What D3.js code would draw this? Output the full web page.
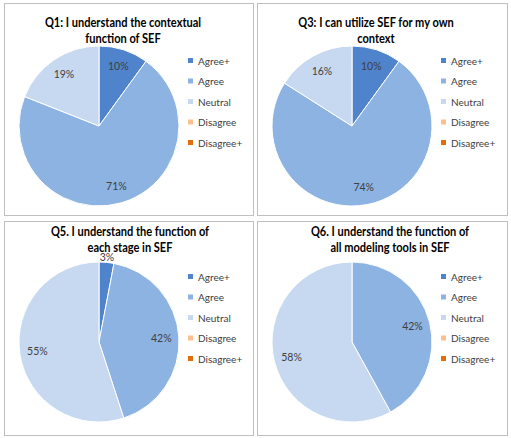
<!DOCTYPE html>
<html>
<head>
<meta charset="utf-8">
<script src="https://cdn.jsdelivr.net/npm/d3@7"></script>
<style>
  html, body { margin: 0; padding: 0; background: #fff; }
  svg { display: block; font-family: Lato, "Open Sans", sans-serif; }
</style>
</head>
<body>
<svg id="chart" width="511" height="438"></svg>
<script>
// categories shared by all four pies
const categories = ['Agree+', 'Agree', 'Neutral', 'Disagree', 'Disagree+'];
const colors = ['#4f83cc', '#8db3e2', '#c6d9f1', '#fac090', '#e46c0a'];

// percentages per question, in category order
const q1 = [10, 71, 19, 0, 0];
const q3 = [10, 74, 16, 0, 0];
const q5 = [3, 42, 55, 0, 0];
const q6 = [0, 42, 58, 0, 0];

const titles = [
  ['Q1: I understand the contextual', 'function of SEF'],
  ['Q3: I can utilize SEF for my own', 'context'],
  ['Q5. I understand the function of', 'each stage in SEF'],
  ['Q6. I understand the function of', 'all modeling tools in SEF']
];
const series = [q1, q3, q5, q6];

// panel frames
const panels = [
  { x: 4, y: 3, w: 249, h: 212, tx: 119, ty: 24, cy: 123, ly: 58 },
  { x: 257, y: 3, w: 250, h: 212, tx: 119, ty: 24, cy: 123, ly: 58 },
  { x: 4, y: 221, w: 249, h: 214, tx: 126, ty: 15, cy: 121, ly: 56 },
  { x: 257, y: 221, w: 250, h: 214, tx: 133, ty: 15, cy: 121, ly: 56 }
];

const svg = d3.select('#chart');
const radius = 80;
const pie = d3.pie().sort(null).value(d => d.value);
const arc = d3.arc().innerRadius(0).outerRadius(radius);
const labelArc = d3.arc().innerRadius(radius * 0.78).outerRadius(radius * 0.78);
const outerLabelArc = d3.arc().innerRadius(radius + 5).outerRadius(radius + 5);
const color = d3.scaleOrdinal().domain(categories).range(colors);
const legendY = d3.scalePoint().domain(categories).range([0, 82]);

panels.forEach((p, i) => {
  const g = svg.append('g').attr('transform', `translate(${p.x},${p.y})`);

  g.append('rect')
    .attr('x', 0.5).attr('y', 0.5)
    .attr('width', p.w).attr('height', p.h)
    .attr('fill', '#fff')
    .attr('stroke', '#bfbfbf')
    .attr('stroke-width', 1);

  // title (squeezed a bit to get Calibri-like proportions)
  g.append('g')
    .attr('transform', `translate(${p.tx},0) scale(0.85,1)`)
    .append('text')
    .attr('text-anchor', 'middle')
    .attr('font-weight', 'bold')
    .attr('font-size', 13)
    .attr('fill', '#000')
    .selectAll('tspan')
    .data(titles[i])
    .join('tspan')
    .attr('x', 0)
    .attr('y', (d, k) => p.ty + k * 16.5)
    .text(d => d);

  // pie
  const pg = g.append('g').attr('transform', `translate(95,${p.cy})`);
  const data = pie(categories.map((c, k) => ({ cat: c, value: series[i][k] })));

  pg.selectAll('path')
    .data(data.filter(d => d.data.value > 0))
    .join('path')
    .attr('d', arc)
    .attr('fill', d => color(d.data.cat))
    .attr('stroke', '#fff')
    .attr('stroke-width', 1);

  pg.selectAll('text')
    .data(data.filter(d => d.data.value > 0))
    .join('text')
    .attr('transform', d => {
      const c = d.data.value < 5 ? outerLabelArc.centroid(d) : labelArc.centroid(d);
      return `translate(${c})`;
    })
    .attr('text-anchor', 'middle')
    .attr('dy', '0.35em')
    .attr('font-size', 10.5)
    .attr('fill', '#404040')
    .text(d => d.data.value + '%');

  // legend
  const lg = g.append('g').attr('transform', `translate(184,${p.ly})`);
  const row = lg.selectAll('g')
    .data(categories)
    .join('g')
    .attr('transform', d => `translate(0,${legendY(d)})`);
  row.append('rect')
    .attr('x', 0).attr('y', -3)
    .attr('width', 5).attr('height', 5)
    .attr('fill', d => color(d));
  row.append('text')
    .attr('x', 10)
    .attr('dy', '0.35em')
    .attr('font-size', 10)
    .attr('fill', '#404040')
    .text(d => d);
});
</script>
</body>
</html>
